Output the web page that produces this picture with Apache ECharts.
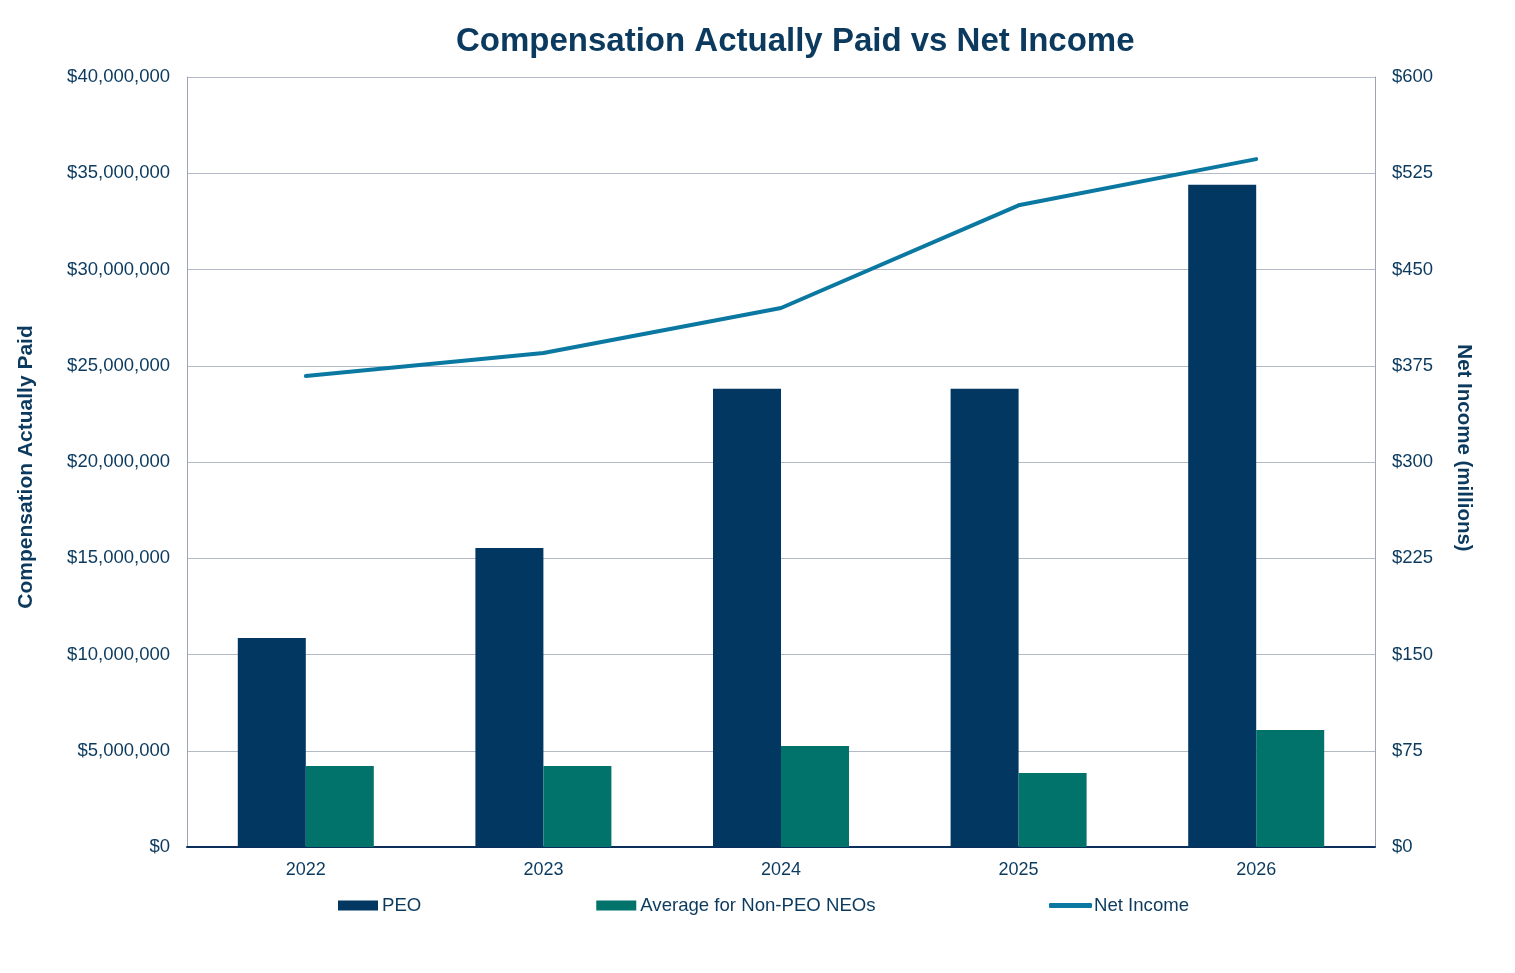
<!DOCTYPE html>
<html>
<head>
<meta charset="utf-8">
<script src="https://cdn.jsdelivr.net/npm/echarts@6/dist/echarts.min.js"></script>
<style>
html,body{margin:0;padding:0;background:#fff;}
#chart{width:1515px;height:973px;}
</style>
</head>
<body>
<div id="chart"></div>
<script>
const years = ['2022', '2023', '2024', '2025', '2026'];
const peoValues = [10860000, 15530000, 23800000, 23800000, 34400000];
const neoValues = [4210000, 4210000, 5250000, 3840000, 6080000];
const netIncomeValues = [367, 385, 420, 500, 536];
const leftTicks = { min: 0, max: 40000000, interval: 5000000 };
const rightTicks = { min: 0, max: 600, interval: 75 };

const textColor = '#0B3A5E';
const font = 'Liberation Sans, Arial, sans-serif';

const chart = echarts.init(document.getElementById('chart'));
chart.setOption({
  backgroundColor: '#ffffff',
  animation: false,
  title: {
    text: 'Compensation Actually Paid vs Net Income',
    left: 451,
    top: 20,
    textStyle: { fontFamily: font, fontSize: 33, fontWeight: 'bold', color: '#0B3A5E' }
  },
  grid: { left: 187, right: 140, top: 77, bottom: 126, containLabel: false },
  legend: [
    {
      left: 333,
      top: 891,
      itemGap: 175,
      itemWidth: 40,
      itemHeight: 10,
      textStyle: { fontFamily: font, fontSize: 18.6, color: textColor, padding: [0, 0, 0, -1] },
      data: [
        { name: 'PEO', icon: 'rect' },
        { name: 'Average for Non-PEO NEOs', icon: 'rect' }
      ]
    },
    {
      left: 1044,
      top: 891,
      itemWidth: 43,
      itemHeight: 5,
      textStyle: { fontFamily: font, fontSize: 18.6, color: textColor, padding: [0, 0, 0, -3] },
      data: [
        { name: 'Net Income', icon: 'roundRect' }
      ]
    }
  ],
  xAxis: {
    type: 'category',
    data: years,
    axisLine: { lineStyle: { color: '#0B2F5A', width: 2 } },
    axisTick: { show: false },
    axisLabel: { fontFamily: font, fontSize: 18, color: textColor, margin: 14 }
  },
  yAxis: [
    {
      type: 'value',
      min: leftTicks.min, max: leftTicks.max, interval: leftTicks.interval,
      name: 'Compensation Actually Paid',
      nameLocation: 'middle',
      nameRotate: 90,
      nameGap: 150,
      nameTextStyle: { fontFamily: font, fontSize: 21, fontWeight: 'bold', color: textColor, padding: [0, 10, 0, 0] },
      axisLine: { show: true, lineStyle: { color: '#9CA3B4', width: 1 } },
      axisTick: { show: false },
      splitLine: { show: true, lineStyle: { color: '#B4B9C6', width: 1 } },
      axisLabel: {
        fontFamily: font, fontSize: 18.5, color: textColor, margin: 17,
        formatter: v => '$' + v.toLocaleString('en-US')
      }
    },
    {
      type: 'value',
      min: rightTicks.min, max: rightTicks.max, interval: rightTicks.interval,
      name: 'Net Income (millions)',
      nameLocation: 'middle',
      nameRotate: -90,
      nameGap: 78,
      nameTextStyle: { fontFamily: font, fontSize: 20.5, fontWeight: 'bold', color: textColor, padding: [0, 28, 0, 0] },
      axisLine: { show: true, lineStyle: { color: '#9CA3B4', width: 1 } },
      axisTick: { show: false },
      splitLine: { show: false },
      axisLabel: {
        fontFamily: font, fontSize: 18.5, color: textColor, margin: 17,
        formatter: v => '$' + v
      }
    }
  ],
  series: [
    {
      name: 'PEO',
      type: 'bar',
      data: peoValues,
      barWidth: 68,
      barGap: '0%',
      itemStyle: { color: '#023761' }
    },
    {
      name: 'Average for Non-PEO NEOs',
      type: 'bar',
      data: neoValues,
      barWidth: 68,
      barGap: '0%',
      itemStyle: { color: '#01736A' }
    },
    {
      name: 'Net Income',
      type: 'line',
      yAxisIndex: 1,
      data: netIncomeValues,
      symbol: 'none',
      lineStyle: { color: '#0A78A1', width: 4, cap: 'round' },
      itemStyle: { color: '#0A78A1' },
      z: 5
    }
  ]
});
</script>
</body>
</html>
